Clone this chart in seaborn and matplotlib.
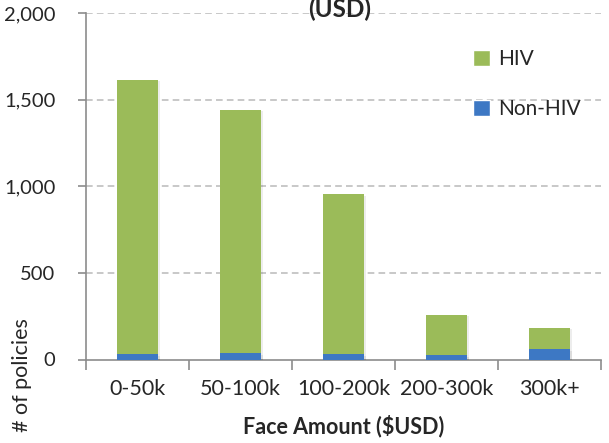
import matplotlib
matplotlib.use("Agg")
import matplotlib.pyplot as plt
import matplotlib.patheffects as pe
from matplotlib.patches import Patch
import seaborn as sns
import pandas as pd
import numpy as np

# Policy counts by face amount band
bands = ["0-50k", "50-100k", "100-200k", "200-300k", "300k+"]
hiv = [1583, 1404, 922, 233, 124]
non_hiv = [32, 38, 32, 26, 60]
y_ticks = [0, 500, 1000, 1500, 2000]

df = pd.DataFrame({"band": bands, "HIV": hiv, "Non-HIV": non_hiv})
df["total"] = df["HIV"] + df["Non-HIV"]

sns.set_theme(style="white")
plt.rcParams["font.family"] = ["Lato", "DejaVu Sans"]

green = "#9BBB59"
blue = "#3D78C4"

fig = plt.figure(figsize=(6.09, 4.43), dpi=100)
ax = fig.add_axes([86 / 609, 1 - 359.5 / 443, 515 / 609, (359.5 - 13) / 443])

shadow = [pe.SimplePatchShadow(offset=(1.2, -1.2), shadow_rgbFace="#000000", alpha=0.07), pe.Normal()]

# stacked: full height in green, Non-HIV drawn over the base
sns.barplot(data=df, x="band", y="total", color=green, width=0.4, saturation=1,
            ax=ax, zorder=3)
sns.barplot(data=df, x="band", y="Non-HIV", color=blue, width=0.4, saturation=1,
            ax=ax, zorder=4)
for p in ax.patches:
    p.set_path_effects(shadow)
    p.set_edgecolor("none")

ax.set_ylim(0, 2000)
ax.set_xlim(-0.5, 4.5)
ax.set_yticks(y_ticks)
ax.set_yticklabels([f"{v:,}" for v in y_ticks], fontsize=14.5)
ax.set_xticks(range(len(bands)))
ax.set_xticklabels(bands, fontsize=15.5)

for v in y_ticks[1:]:
    ax.axhline(v, color="#BFBFBF", lw=1.2, ls=(0, (4, 2.5)), zorder=1)

for s in ["top", "right"]:
    ax.spines[s].set_visible(False)
for s in ["left", "bottom"]:
    ax.spines[s].set_color("#8C8C8C")
    ax.spines[s].set_linewidth(1.2)

ax.tick_params(axis="y", which="major", direction="out", length=6, width=1.2,
               color="#8C8C8C", left=True, pad=16)
ax.tick_params(axis="x", which="major", length=0, pad=14)
# tick marks at category boundaries
ax.set_xticks(np.arange(-0.5, 5, 1), minor=True)
ax.tick_params(axis="x", which="minor", direction="out", length=7, width=1.2,
               color="#8C8C8C", bottom=True)

ax.set_xlabel("Face Amount ($USD)", fontsize=15.5, fontweight="bold", labelpad=11)
ax.set_ylabel("# of policies", fontsize=15.5)
ax.yaxis.set_label_coords(-0.105, -0.045)

fig.text(340 / 609, 1 - 17 / 443, "(USD)", ha="center", va="baseline",
         fontsize=17.5, fontweight="bold")

handles = [Patch(facecolor=green, label="HIV"), Patch(facecolor=blue, label="Non-HIV")]
ax.legend(handles=handles, loc="upper left", bbox_to_anchor=(0.716, 0.95), frameon=False,
          fontsize=15, labelspacing=1.45, handlelength=0.8, handleheight=0.8,
          handletextpad=0.4)

fig.savefig("out.png", dpi=100)
